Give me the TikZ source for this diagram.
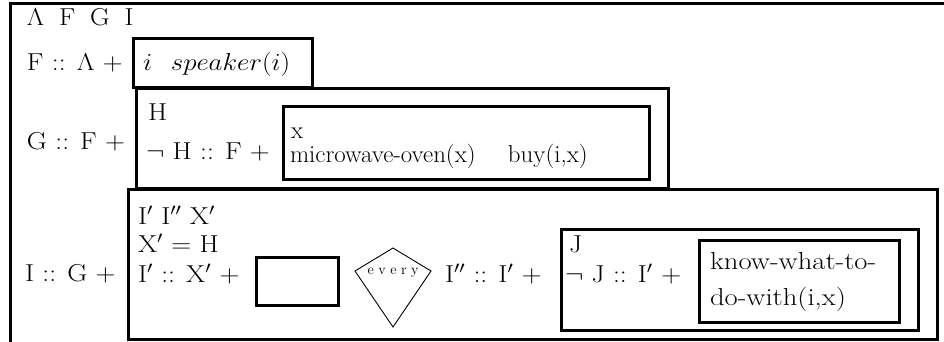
\documentclass[tikz,border=0pt]{standalone}
\usepackage{graphicx}
\newcommand\wide[1]{\scalebox{1.33}[1.18]{#1}}
\newcommand\midwide[1]{\scalebox{1.2}[1.18]{#1}}
\newcommand\xwide[1]{\scalebox{1.38}[1.18]{#1}}
\tikzset{
  boxline/.style={line width=3pt},
  txt/.style={anchor=base west, inner sep=0pt, outer sep=0pt, font=\huge},
  small/.style={anchor=base, inner sep=0pt, font=\Large},
  thinline/.style={line width=0.9pt}
}
\begin{document}
\begin{tikzpicture}[x=1pt,y=-1pt]
\useasboundingbox (0,0) rectangle (944,341);
\clip (0,0) rectangle (944,341);
% outer frame (cut off at right and bottom)
\draw[boxline] (10,350) -- (10,3) -- (960,3);
% row 1
\node[txt] (vars) at (27,25) {\scalebox{1.3}[1.18]{$\Lambda$\hspace{0.55em}F\hspace{0.55em}G\hspace{0.55em}I}};
% row 2
\node[txt] (rowF) at (27,70) {\wide{F :: $\Lambda$ +}};
\draw[boxline] (133,38) rectangle (312,87);
\node[txt] (spk) at (143,70) {\scalebox{1.3}[1.18]{$i$\hspace{0.7em}$speaker(i)$}};
% row 3
\node[txt] (rowG) at (27,149) {\wide{G :: F +}};
\draw[boxline] (136,88) rectangle (668,188);
\node[txt] (H) at (148,120) {\wide{H}};
\node[txt] (negH) at (146,159) {\wide{$\neg$ H :: F +}};
\draw[boxline] (283,106) rectangle (649,179);
\node[txt] (xv) at (291,138) {\midwide{x}};
\node[txt] (mw) at (290,162) {\midwide{microwave-oven(x)\hspace{1.3em}buy(i,x)}};
% row 4
\node[txt] (rowI) at (25,281) {\wide{I :: G +}};
\draw[boxline] (128,189) rectangle (937,339);
\node[txt] (ivars) at (138,224) {\wide{I$'$ I$''$ X$'$}};
\node[txt] (xeq) at (138,252) {\wide{X$'$ = H}};
\node[txt] (ix) at (138,282) {\wide{I$'$ :: X$'$ +}};
\draw[boxline] (256,257) rectangle (338,305);
\coordinate (dt) at (393,248);
\coordinate (dl) at (355,271);
\coordinate (dr) at (431,271);
\coordinate (db) at (393,327);
\draw[thinline] (dt) -- (dl) -- (db) -- (dr) -- cycle;
\node[small] (every) at (393,274) {e\hspace{4.5pt}v\hspace{4.5pt}e\hspace{4.5pt}r\hspace{4.5pt}y};
\node[txt] (ii) at (445,282) {\wide{I$''$ :: I$'$ +}};
\draw[boxline] (561,229) rectangle (918,330);
\node[txt] (J) at (569,252) {\wide{J}};
\node[txt] (negJ) at (565,282) {\wide{$\neg$ J :: I$'$ +}};
\draw[boxline] (699,240) rectangle (899,322);
\node[txt] (kw1) at (710,269) {\xwide{know-what-to-}};
\node[txt] (kw2) at (710,305) {\xwide{do-with(i,x)}};
\end{tikzpicture}
\end{document}
